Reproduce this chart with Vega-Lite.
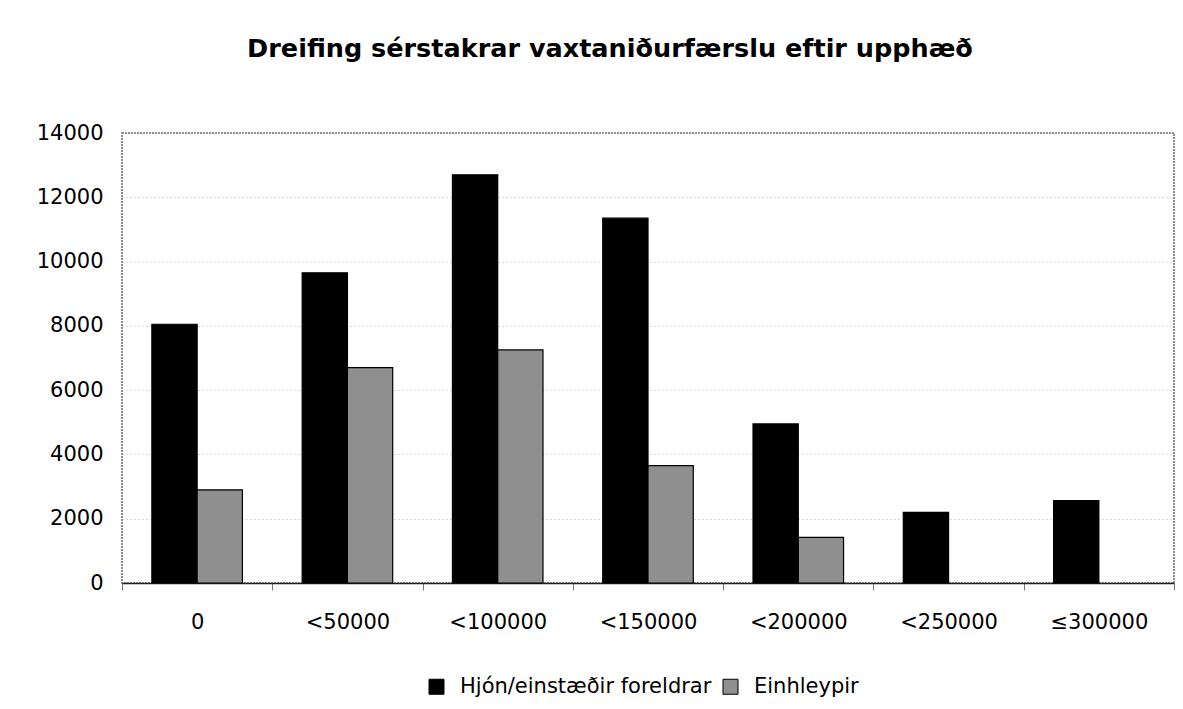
{
  "$schema": "https://vega.github.io/schema/vega-lite/v6.json",
  "autosize": "none",
  "padding": {"left": 122, "top": 133, "right": 9, "bottom": 126},
  "width": 1052,
  "height": 450,
  "background": "white",
  "title": {
    "text": "Dreifing sérstakrar vaxtaniðurfærslu eftir upphæð",
    "font": "DejaVu Sans",
    "fontWeight": "bold",
    "fontSize": 25.5,
    "color": "black",
    "anchor": "middle",
    "frame": "group",
    "dx": -38,
    "offset": 60
  },
  "data": {
    "values": [
      {"flokkur": "0", "hopur": "Hjón/einstæðir foreldrar", "fjoldi": 8050},
      {"flokkur": "0", "hopur": "Einhleypir", "fjoldi": 2900},
      {"flokkur": "<50000", "hopur": "Hjón/einstæðir foreldrar", "fjoldi": 9650},
      {"flokkur": "<50000", "hopur": "Einhleypir", "fjoldi": 6700},
      {"flokkur": "<100000", "hopur": "Hjón/einstæðir foreldrar", "fjoldi": 12700},
      {"flokkur": "<100000", "hopur": "Einhleypir", "fjoldi": 7250},
      {"flokkur": "<150000", "hopur": "Hjón/einstæðir foreldrar", "fjoldi": 11350},
      {"flokkur": "<150000", "hopur": "Einhleypir", "fjoldi": 3650},
      {"flokkur": "<200000", "hopur": "Hjón/einstæðir foreldrar", "fjoldi": 4950},
      {"flokkur": "<200000", "hopur": "Einhleypir", "fjoldi": 1420},
      {"flokkur": "<250000", "hopur": "Hjón/einstæðir foreldrar", "fjoldi": 2200},
      {"flokkur": "≤300000", "hopur": "Hjón/einstæðir foreldrar", "fjoldi": 2560}
    ]
  },
  "mark": {"type": "bar", "stroke": "black", "strokeWidth": 1.2},
  "encoding": {
    "x": {
      "field": "flokkur",
      "type": "nominal",
      "sort": ["0", "<50000", "<100000", "<150000", "<200000", "<250000", "≤300000"],
      "scale": {"paddingInner": 0, "paddingOuter": 0},
      "axis": {
        "title": null,
        "labelAngle": 0,
        "labelFont": "DejaVu Sans",
        "labelFontSize": 21,
        "labelColor": "black",
        "labelPadding": 21,
        "tickBand": "extent",
        "tickSize": 7,
        "tickColor": "#777",
        "tickWidth": 1,
        "domainColor": "#222",
        "domainWidth": 1.5,
        "grid": false
      }
    },
    "xOffset": {
      "field": "hopur",
      "type": "nominal",
      "sort": ["Hjón/einstæðir foreldrar", "Einhleypir"],
      "scale": {"domain": ["Hjón/einstæðir foreldrar", "Einhleypir"], "paddingInner": 0, "paddingOuter": 0.66}
    },
    "y": {
      "field": "fjoldi",
      "type": "quantitative",
      "scale": {"domain": [0, 14000], "nice": false},
      "axis": {
        "title": null,
        "values": [0, 2000, 4000, 6000, 8000, 10000, 12000, 14000],
        "format": "d",
        "labelFont": "DejaVu Sans",
        "labelFontSize": 21,
        "labelColor": "black",
        "labelPadding": 19,
        "ticks": false,
        "domain": false,
        "grid": true,
        "gridColor": "#b5b5b5",
        "gridDash": [1, 3],
        "gridWidth": 1
      }
    },
    "color": {
      "field": "hopur",
      "type": "nominal",
      "scale": {
        "domain": ["Hjón/einstæðir foreldrar", "Einhleypir"],
        "range": ["#000000", "#8f8f8f"]
      },
      "legend": {
        "title": null,
        "orient": "none",
        "direction": "horizontal",
        "legendX": 304,
        "legendY": 543,
        "padding": 0,
        "symbolType": "square",
        "symbolSize": 225,
        "symbolStrokeColor": "black",
        "symbolStrokeWidth": 1,
        "labelFont": "DejaVu Sans",
        "labelFontSize": 21,
        "labelColor": "black",
        "labelOffset": 13,
        "columnPadding": 8,
        "labelLimit": 400
      }
    }
  },
  "config": {
    "view": {"stroke": "#666", "strokeWidth": 1.5, "strokeDash": [2, 1]}
  }
}
